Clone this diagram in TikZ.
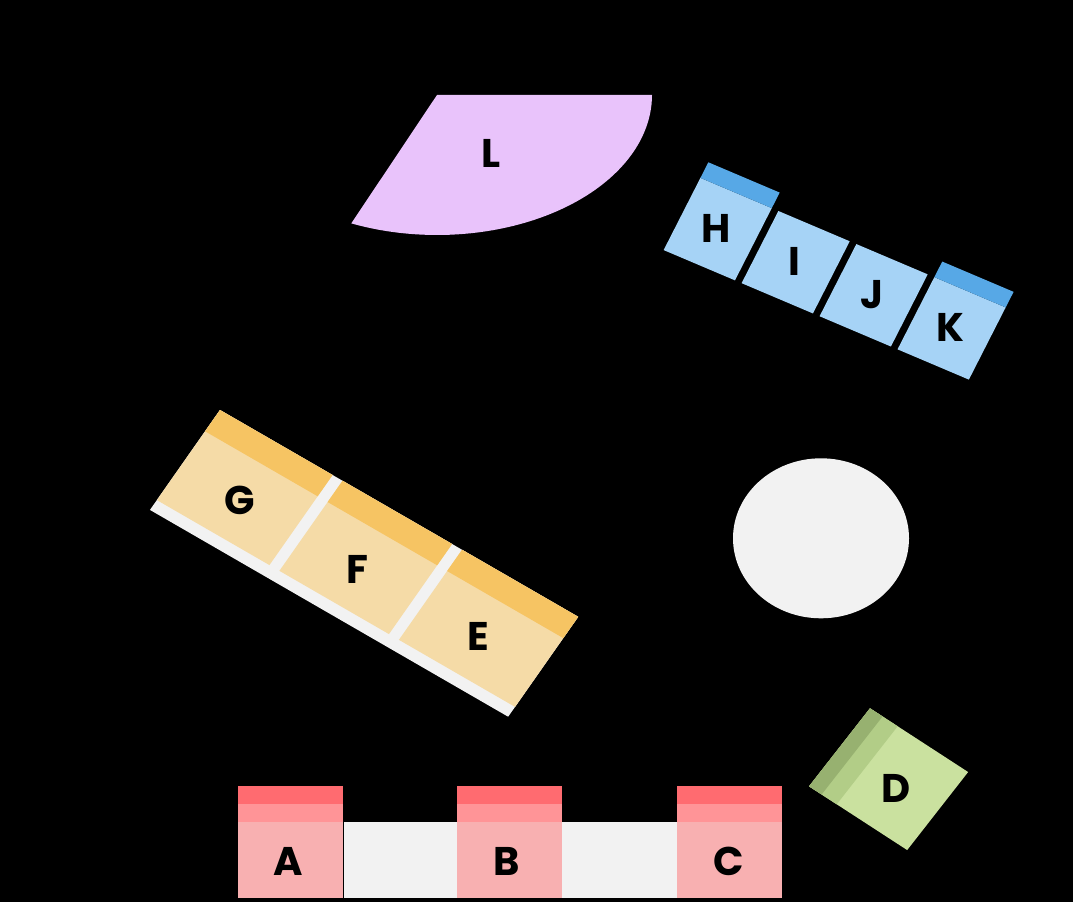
\documentclass[tikz,border=0pt]{standalone}
\usepackage{fontspec}
\setmainfont{Poppins}
\definecolor{Lpurple}{HTML}{E9C3FB}
\definecolor{bluedark}{HTML}{57A8E6}
\definecolor{bluelight}{HTML}{A6D3F6}
\definecolor{ordark}{HTML}{F6C463}
\definecolor{orlight}{HTML}{F5DBA7}
\definecolor{grayT}{HTML}{F2F2F2}
\definecolor{reddark}{HTML}{FF6B70}
\definecolor{redmed}{HTML}{FF9497}
\definecolor{redlight}{HTML}{F8B0B1}
\definecolor{grdark}{HTML}{97B170}
\definecolor{grmed}{HTML}{B2CD87}
\definecolor{grlight}{HTML}{CAE19F}
\begin{document}
\begin{tikzpicture}[x=0.75pt,y=-0.75pt,
  lbl/.style={font=\fontsize{30}{30}\selectfont\bfseries, text=black, inner sep=0pt}]
\useasboundingbox[fill=black] (0,0) rectangle (1073,902);

% L : elliptic sector
\fill[Lpurple] (437,95) -- plot[domain=0:113.5,samples=60,variable=\t] ({437+215*cos(\t)},{95+140*sin(\t)}) -- cycle;
\node[lbl] (L) at (491,153) {L};

% H I J K
\begin{scope}[shift={(700.4,177.9)}, x={(0.6904pt,-0.2930pt)}, y={(-0.3405pt,-0.6683pt)}]
  \foreach \i/\n in {0/H,1/I,2/J,3/K} {
    \pgfmathsetmacro\a{\i*84.7}
    \pgfmathsetmacro\b{\i*84.7+77.5}
    \fill[bluelight] (\a,0) -- (\b,0) -- (\b,81) -- (\a,81) -- cycle;
    \node[lbl] (\n) at ({\a+37},40.5) {\n};
  }
  \fill[bluedark] (0,-17.5) -- (77.5,-17.5) -- (77.5,0) -- (0,0) -- cycle;
  \fill[bluedark] (254.1,-17.5) -- (331.6,-17.5) -- (331.6,0) -- (254.1,0) -- cycle;
\end{scope}

% G F E
\begin{scope}[shift={(220,410)}, x={(0.6495pt,-0.375pt)}, y={(-0.4305pt,-0.61425pt)}]
  \fill[grayT] (0,0) -- (413.6,0) -- (413.6,122) -- (0,122) -- cycle;
  \foreach \a/\b in {0/130,141.5/268,279.5/413.6} {
    \fill[orlight] (\a,0) -- (\b,0) -- (\b,110) -- (\a,110) -- cycle;
    \fill[ordark] (\a,0) -- (\b,0) -- (\b,26) -- (\a,26) -- cycle;
  }
  \node[lbl] (G) at (68.6,68.6) {G};
  \node[lbl] (F) at (205,69.6) {F};
  \node[lbl] (E) at (342.6,67.7) {E};
\end{scope}

% round table
\fill[grayT] (821,538.3) ellipse [x radius=66pt, y radius=60pt];

% D
\begin{scope}[shift={(870,708.3)}, x={(0.6290pt,-0.4085pt)}, y={(-0.4618pt,-0.591pt)}]
  \fill[grlight] (0,0) -- (117,0) -- (117,99) -- (0,99) -- cycle;
  \fill[grmed] (0,0) -- (33,0) -- (33,99) -- (0,99) -- cycle;
  \fill[grdark] (0,0) -- (15,0) -- (15,99) -- (0,99) -- cycle;
  \node[lbl] (D) at (70.2,53.7) {D};
\end{scope}

% A B C
\fill[grayT] (344,822) rectangle (677,898);
\foreach \x in {238,457,677} {
  \fill[redlight] (\x,786) rectangle ({\x+105},898);
  \fill[redmed] (\x,804) rectangle ({\x+105},822);
  \fill[reddark] (\x,786) rectangle ({\x+105},804);
}
\node[lbl] (A) at (288,861) {A};
\node[lbl] (B) at (507,861) {B};
\node[lbl] (C) at (729,861) {C};
\end{tikzpicture}
\end{document}
